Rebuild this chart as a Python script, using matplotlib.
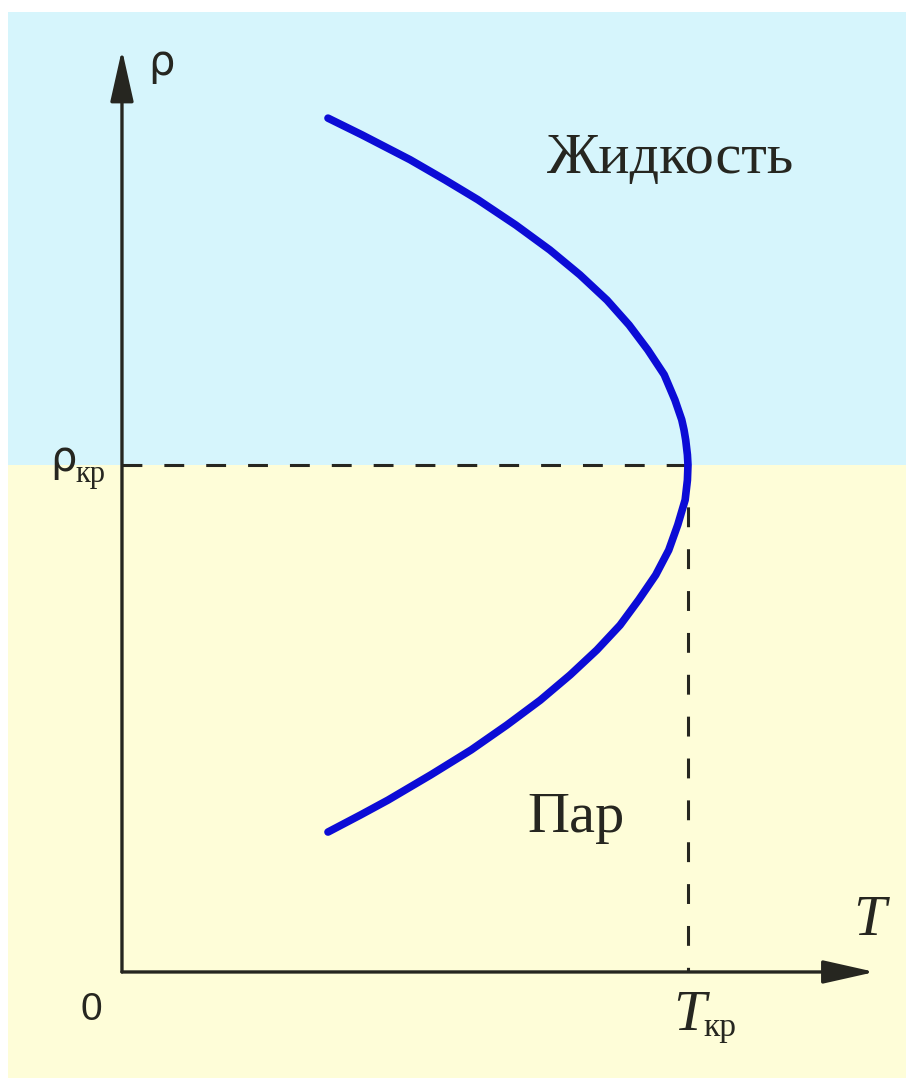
import matplotlib.pyplot as plt
from matplotlib.patches import Rectangle

# coexistence curve, reduced units (T/Tкр, rho/rhoкр)
temp = [0.364, 0.424, 0.509, 0.571, 0.629, 0.696, 0.756, 0.809, 0.857, 0.896,
        0.929, 0.958, 0.977, 0.989, 0.993, 0.996, 0.999, 1.000, 0.999, 0.995,
        0.982, 0.966, 0.943, 0.913, 0.880, 0.839, 0.792, 0.739, 0.680, 0.617,
        0.546, 0.470, 0.422, 0.364]
dens = [1.684, 1.651, 1.602, 1.562, 1.523, 1.473, 1.424, 1.375, 1.325, 1.276,
        1.227, 1.178, 1.128, 1.089, 1.069, 1.049, 1.020, 1.000, 0.970, 0.931,
        0.882, 0.832, 0.783, 0.734, 0.684, 0.635, 0.586, 0.536, 0.487, 0.438,
        0.389, 0.339, 0.310, 0.276]
t_cr = 1.0
rho_cr = 1.0

ink = '#262620'

fig = plt.figure(figsize=(9.12, 10.82), dpi=100)
ax = fig.add_axes([0, 0, 1, 1])
ax.set_xlim(-0.2155, 1.3958)
ax.set_ylim(-0.217, 1.917)
ax.axis('off')

# background regions
ax.add_patch(Rectangle((-0.201, rho_cr), 1.586, 0.893, color='#d6f5fc', lw=0, zorder=0))
ax.add_patch(Rectangle((-0.201, -0.209), 1.586, rho_cr + 0.209, color='#fefdd8', lw=0, zorder=0))

# axes with arrows
arr = dict(arrowstyle='-|>,head_length=1.6,head_width=0.36', mutation_scale=20,
           lw=2.4, color=ink, shrinkA=0, shrinkB=0)
ax.annotate('', xy=(0, 1.819), xytext=(0, 0), arrowprops=arr)
ax.annotate('', xy=(1.330, 0), xytext=(0, 0), arrowprops=arr)

# critical point guides
ax.plot([0, t_cr], [rho_cr, rho_cr], color=ink, lw=2.2, ls=(0, (6.5, 7.2)))
ax.plot([t_cr, t_cr], [rho_cr, 0], color=ink, lw=2.2, ls=(0, (6.5, 7.2)))

# curve
ax.plot(temp, dens, color='#0c0cd6', lw=5.5, solid_capstyle='round',
        solid_joinstyle='round', zorder=5)

serif = 'Liberation Serif'
ax.text(0.751, 1.576, 'Жидкость', family=serif, fontsize=42, color=ink, va='baseline')
ax.text(0.716, 0.276, 'Пар', family=serif, fontsize=42, color=ink, va='baseline')
ax.text(1.292, 0.073, 'T', family=serif, style='italic', fontsize=42, color=ink, va='baseline')
ax.text(0.974, -0.114, 'T', family=serif, style='italic', fontsize=42, color=ink, va='baseline')
ax.text(1.027, -0.126, 'кр', family=serif, fontsize=24, color=ink, va='baseline')
ax.text(-0.074, -0.095, '0', family='Liberation Sans', fontsize=28, color=ink, va='baseline')
ax.text(0.046, 1.769, 'ρ', family='DejaVu Sans', fontsize=30, color=ink, va='baseline')
ax.text(-0.127, 0.988, 'ρ', family='DejaVu Sans', fontsize=30, color=ink, va='baseline')
ax.text(-0.083, 0.966, 'кр', family=serif, fontsize=22, color=ink, va='baseline')

fig.savefig('out.png', dpi=100, facecolor='white')
